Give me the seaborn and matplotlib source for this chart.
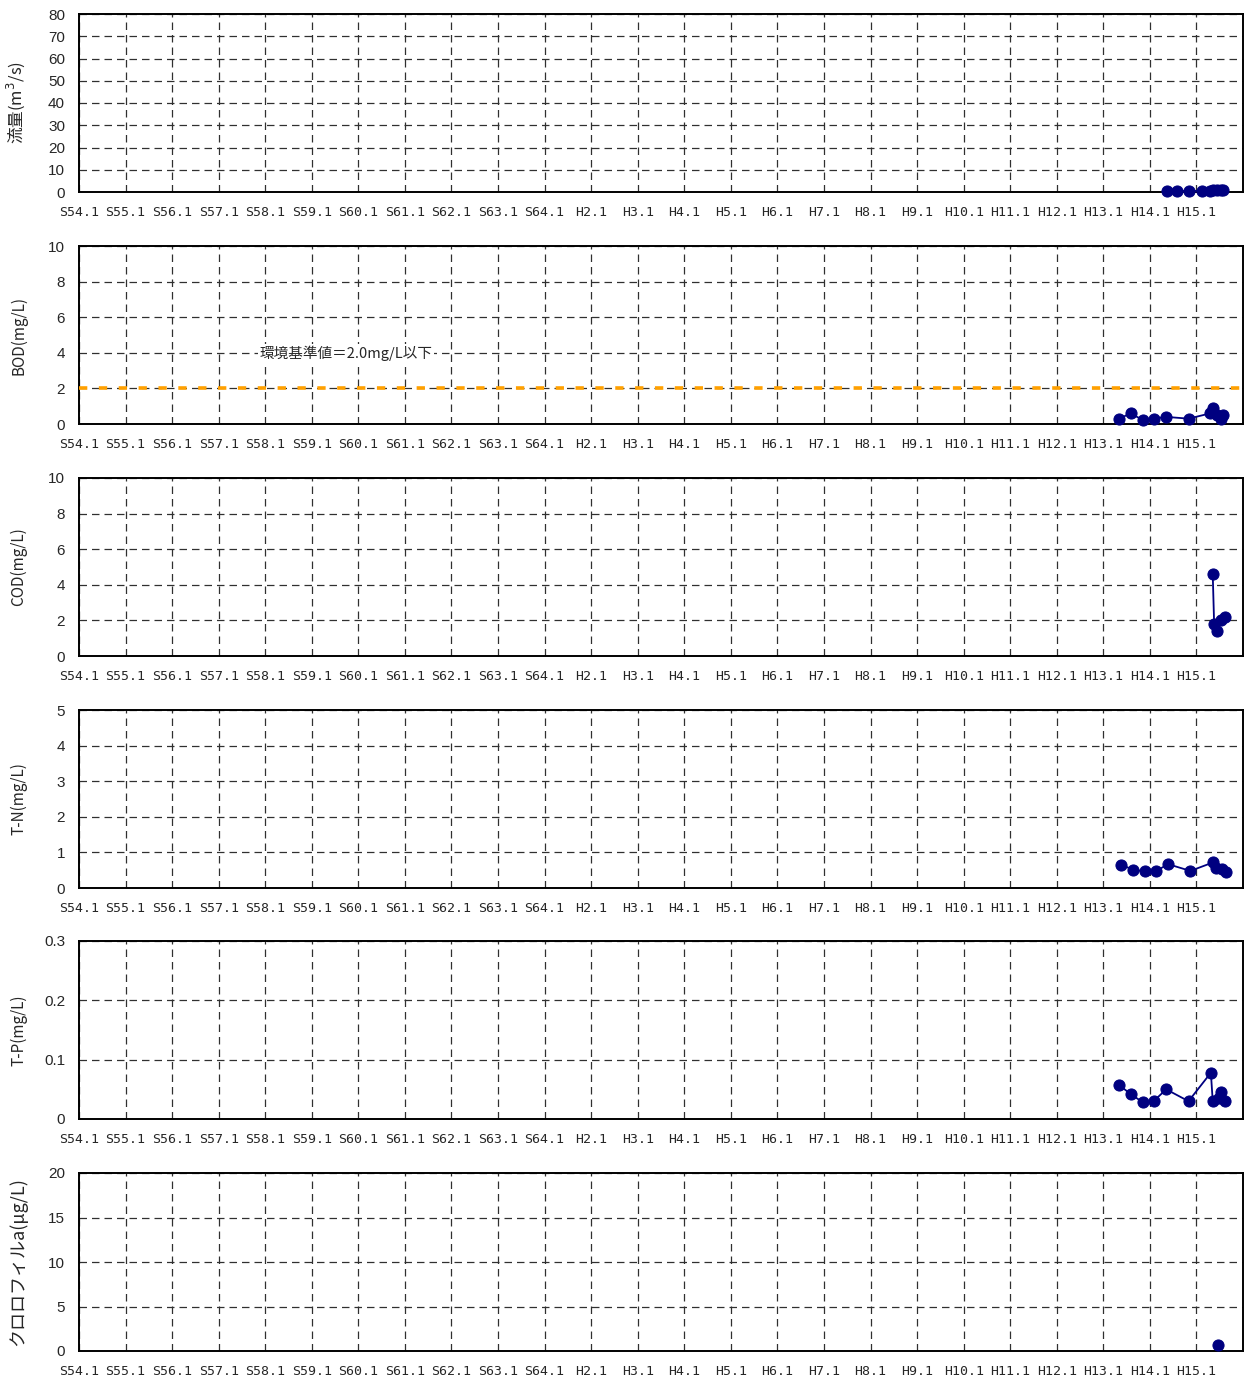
import numpy as np
import pandas as pd
import matplotlib
matplotlib.use("Agg")
import matplotlib.pyplot as plt
import seaborn as sns

# ---- data (x = years since S54.1) ----
year_labels = ["S54.1", "S55.1", "S56.1", "S57.1", "S58.1", "S59.1", "S60.1", "S61.1",
               "S62.1", "S63.1", "S64.1", "H2.1", "H3.1", "H4.1", "H5.1", "H6.1",
               "H7.1", "H8.1", "H9.1", "H10.1", "H11.1", "H12.1", "H13.1", "H14.1", "H15.1"]

flow_x = [23.37, 23.58, 23.84, 24.12, 24.30, 24.36, 24.44, 24.52, 24.58]
flow_y = [0.6, 0.5, 0.5, 0.5, 0.6, 0.7, 0.8, 0.9, 0.8]

bod_x = [22.34, 22.59, 22.86, 23.09, 23.35, 23.83, 24.30, 24.36, 24.45, 24.52, 24.58]
bod_y = [0.3, 0.6, 0.2, 0.3, 0.4, 0.3, 0.6, 0.9, 0.5, 0.3, 0.5]

cod_x = [24.35, 24.38, 24.44, 24.53, 24.62]
cod_y = [4.6, 1.8, 1.4, 2.0, 2.2]

tn_x = [22.39, 22.63, 22.89, 23.14, 23.39, 23.87, 24.36, 24.42, 24.54, 24.63]
tn_y = [0.66, 0.51, 0.47, 0.48, 0.67, 0.48, 0.72, 0.55, 0.53, 0.44]

tp_x = [22.34, 22.59, 22.85, 23.08, 23.35, 23.83, 24.31, 24.35, 24.49, 24.52, 24.62]
tp_y = [0.057, 0.042, 0.028, 0.030, 0.050, 0.030, 0.078, 0.030, 0.035, 0.045, 0.030]

chl_x = [24.46]
chl_y = [0.7]

bod_standard = 2.0
bod_standard_text = "環境基準値＝2.0mg/L以下"

panels = [
    ("流量(m$^3$/s)", flow_x, flow_y, 80, 10, 12),
    ("BOD(mg/L)", bod_x, bod_y, 10, 2, 11),
    ("COD(mg/L)", cod_x, cod_y, 10, 2, 11),
    ("T-N(mg/L)", tn_x, tn_y, 5, 1, 11),
    ("T-P(mg/L)", tp_x, tp_y, 0.3, 0.1, 11),
    ("クロロフィルa(μg/L)", chl_x, chl_y, 20, 5, 13),
]

sns.set_style("white")
plt.rcParams['font.family'] = ['Liberation Sans', 'Noto Sans CJK JP', 'DejaVu Sans']

W, H = 1248, 1382
fig = plt.figure(figsize=(W / 100, H / 100), dpi=100)

tops = [14, 246, 478, 710, 941, 1173]
ph = 178
left, right = 79, 1243
navy = "#000080"

for i, (label, xs, ys, ymax, ystep, lfs) in enumerate(panels):
    t = tops[i]
    ax = fig.add_axes([left / W, 1 - (t + ph) / H, (right - left) / W, ph / H])
    df = pd.DataFrame({"x": xs, "y": ys})
    sns.lineplot(data=df, x="x", y="y", ax=ax, color=navy, linewidth=1.3,
                 marker="o", markersize=8, markeredgecolor=navy, markerfacecolor=navy,
                 sort=False, zorder=5, clip_on=False)
    ax.set_xlim(0, 25)
    ax.set_ylim(0, ymax)
    ax.set_xticks(np.arange(len(year_labels)))
    ax.set_xticklabels(year_labels, family=['DejaVu Sans Mono'], fontsize=9.5)
    yt = np.round(np.arange(0, ymax + ystep / 2, ystep), 3)
    ax.set_yticks(yt)
    if ymax < 1:
        ax.set_yticklabels([("0" if v == 0 else f"{v:.1f}") for v in yt])
    else:
        ax.set_yticklabels([f"{int(v)}" for v in yt])
    ax.tick_params(axis='y', labelsize=11, length=3, direction='in', pad=10)
    ax.tick_params(axis='x', length=3, direction='in', pad=10)
    ax.grid(True, which='major', linestyle=(0, (6, 4)), color="#303030", linewidth=0.9)
    for s in ax.spines.values():
        s.set_color("black")
        s.set_linewidth(1.4)
        s.set_visible(True)
    ax.set_xlabel("")
    ax.set_ylabel(label, family=['Noto Sans CJK JP', 'DejaVu Sans'], fontsize=lfs)
    ax.yaxis.set_label_coords(-0.0445, 0.5)
    if i == 1:
        ax.axhline(bod_standard, color="#FFA000", linewidth=2.6, linestyle=(0, (2.3, 3.2)), zorder=4)
        ax.text(3.87, 4.0, bod_standard_text, family=['Noto Sans CJK JP', 'DejaVu Sans'],
                fontsize=10.5, va='center', ha='left',
                bbox=dict(facecolor='white', edgecolor='none', pad=1))

fig.savefig("out.png", dpi=100)
